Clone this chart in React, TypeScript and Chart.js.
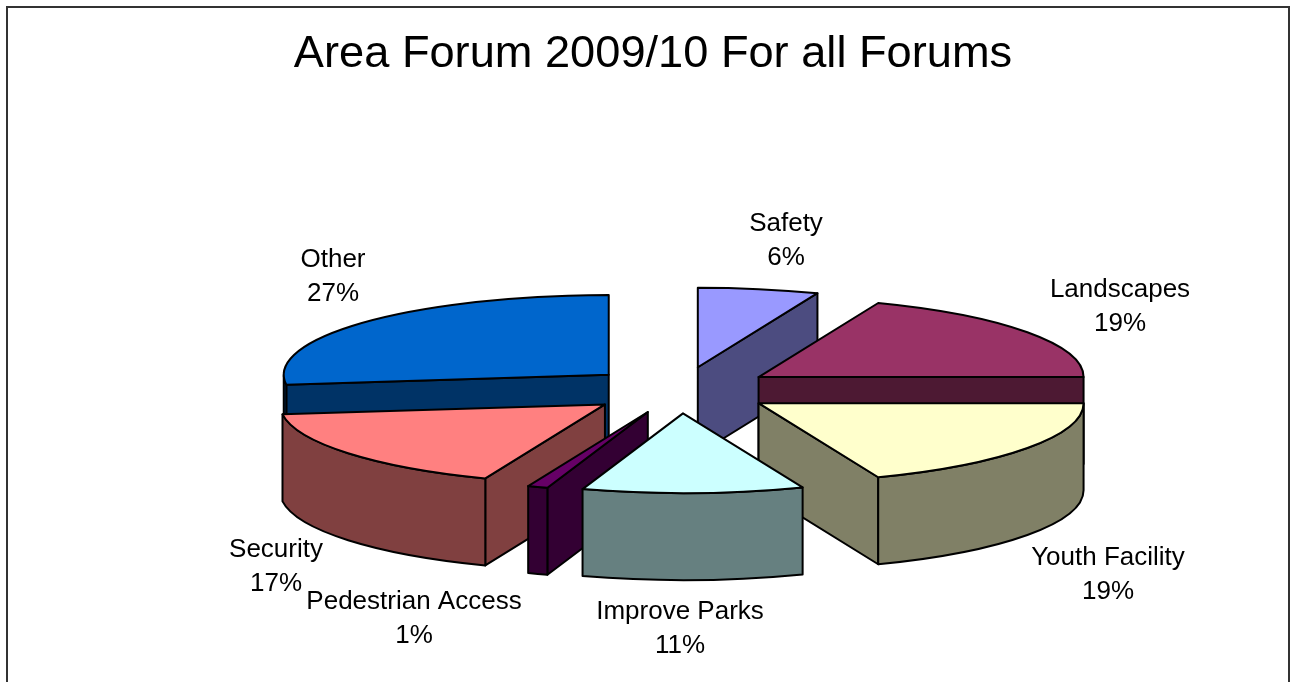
import React, { useEffect, useRef } from "react";
import { Chart, registerables } from "chart.js";

Chart.register(...registerables);

const titleText = "Area Forum 2009/10 For all Forums";
const categories = ["Safety", "Landscapes", "Youth Facility", "Improve Parks", "Pedestrian Access", "Security", "Other"];
const shares = [6, 19, 19, 11, 1, 17, 27];
const topColors = ["#9999FF", "#993366", "#FFFFCC", "#CCFFFF", "#660066", "#FF8080", "#0066CC"];
const wallColors = ["#4C4C80", "#4D1933", "#808066", "#668080", "#330033", "#804040", "#003366"];

// Centre of each two-line data label on the canvas.
const labelCentres: [number, number][] = [
  [786, 241],
  [1120, 307],
  [1108, 575],
  [680, 629],
  [414, 619],
  [276, 567],
  [333, 277],
];

const FONT_FAMILY = '"Liberation Sans", Arial, sans-serif';
const TILT = 0.245; // vertical squash of the pie disc
const DEPTH = 87; // extrusion height of the disc
const CENTRE_SHIFT_X = 27;

const pie3d = {
  id: "pie3d",
  beforeDraw(chart: Chart) {
    const { ctx, width } = chart;
    ctx.save();
    ctx.strokeStyle = "#333";
    ctx.lineWidth = 2;
    ctx.beginPath();
    ctx.moveTo(7, 700);
    ctx.lineTo(7, 7);
    ctx.lineTo(width - 1, 7);
    ctx.lineTo(width - 1, 700);
    ctx.stroke();
    ctx.restore();
  },
  beforeDatasetsDraw(chart: Chart) {
    const { ctx } = chart;
    const arcs = chart.getDatasetMeta(0).data as any[];

    const slices = arcs.map((arc, index) => {
      const mid = (arc.startAngle + arc.endAngle) / 2;
      const shift = (arc.options.offset || 0) / 4;
      return {
        index,
        start: arc.startAngle as number,
        end: arc.endAngle as number,
        rx: arc.outerRadius as number,
        ry: arc.outerRadius * TILT,
        cx: arc.x + CENTRE_SHIFT_X + Math.cos(mid) * shift,
        cy: arc.y + Math.sin(mid) * shift * TILT,
      };
    });

    // Painter's order: the slices nearest the back go first.
    const ordered = [...slices].sort((a, b) => a.cy - b.cy);

    const paint = (fill: string) => {
      ctx.fillStyle = fill;
      ctx.fill();
      ctx.stroke();
    };

    const radialWall = (s: (typeof slices)[number], angle: number) => {
      const rimX = s.cx + Math.cos(angle) * s.rx;
      const rimY = s.cy + Math.sin(angle) * s.ry;
      ctx.beginPath();
      ctx.moveTo(s.cx, s.cy);
      ctx.lineTo(rimX, rimY);
      ctx.lineTo(rimX, rimY + DEPTH);
      ctx.lineTo(s.cx, s.cy + DEPTH);
      ctx.closePath();
      paint(wallColors[s.index]);
    };

    ctx.save();
    ctx.strokeStyle = "#000";
    ctx.lineWidth = 2;
    ctx.lineJoin = "round";

    for (const s of ordered) {
      // A cut face shows only when it turns towards the viewer.
      if (Math.cos(s.start) < -1e-6) radialWall(s, s.start);
      if (Math.cos(s.end) > 1e-6) radialWall(s, s.end);

      // Outer rim, only on the near half of the disc.
      const from = Math.max(s.start, 0);
      const to = Math.min(s.end, Math.PI);
      if (to > from) {
        ctx.beginPath();
        ctx.ellipse(s.cx, s.cy, s.rx, s.ry, 0, from, to);
        ctx.lineTo(s.cx + Math.cos(to) * s.rx, s.cy + Math.sin(to) * s.ry + DEPTH);
        ctx.ellipse(s.cx, s.cy + DEPTH, s.rx, s.ry, 0, to, from, true);
        ctx.closePath();
        paint(wallColors[s.index]);
      }

      // Top face.
      ctx.beginPath();
      ctx.moveTo(s.cx, s.cy);
      ctx.ellipse(s.cx, s.cy, s.rx, s.ry, 0, s.start, s.end);
      ctx.closePath();
      paint(topColors[s.index]);
    }
    ctx.restore();

    // Category and percentage labels.
    ctx.save();
    ctx.fillStyle = "#000";
    ctx.font = `26px ${FONT_FAMILY}`;
    ctx.textAlign = "center";
    ctx.textBaseline = "middle";
    categories.forEach((name, i) => {
      const [x, y] = labelCentres[i];
      ctx.fillText(name, x, y - 17);
      ctx.fillText(`${shares[i]}%`, x, y + 17);
    });
    ctx.restore();

    return false;
  },
};

export default function App() {
  const canvasRef = useRef<HTMLCanvasElement | null>(null);

  useEffect(() => {
    if (!canvasRef.current) return;
    const chart = new Chart(canvasRef.current, {
      type: "pie",
      data: {
        labels: categories,
        datasets: [{ data: shares, backgroundColor: topColors, offset: 380, borderWidth: 0 }],
      },
      options: {
        responsive: false,
        animation: false,
        radius: 325,
        layout: { padding: { left: 16 } },
        plugins: {
          legend: { display: false },
          tooltip: { enabled: false },
          title: {
            display: true,
            text: titleText,
            color: "#000",
            font: { family: FONT_FAMILY, size: 45.2, weight: "normal" },
            padding: { top: 27, bottom: 17 },
          },
        },
      } as any,
      plugins: [pie3d],
    });
    return () => chart.destroy();
  }, []);

  return (
    <div style={{ position: "absolute", left: 0, top: 0, width: 1290, height: 682, background: "#fff" }}>
      <canvas ref={canvasRef} width={1290} height={682} style={{ display: "block" }} />
    </div>
  );
}
